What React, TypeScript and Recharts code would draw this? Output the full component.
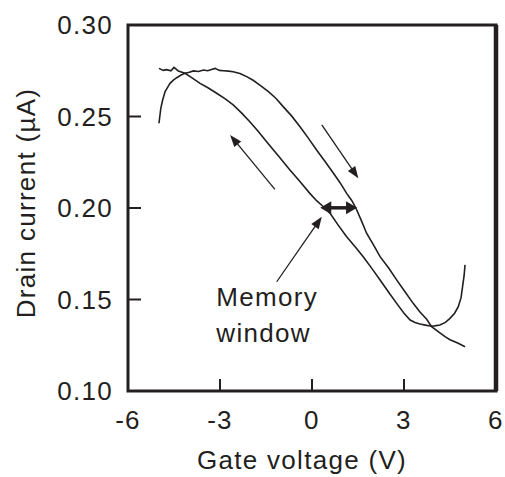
import React from 'react';
import { LineChart, Line, XAxis, YAxis, ReferenceLine, ReferenceArea, ReferenceDot } from 'recharts';

// Forward sweep (-5 V -> +5 V), right-hand branch
const forwardV = [-4.99, -4.93, -4.87, -4.79, -4.7, -4.63, -4.52, -4.41, -4.27, -4.14, -4.0, -3.87, -3.7, -3.54, -3.4, -3.25, -3.16, -3.02, -2.89, -2.72, -2.57, -2.35, -2.13, -1.92, -1.7, -1.42, -1.18, -0.94, -0.66, -0.39, -0.12, 0.15, 0.42, 0.7, 0.92, 1.13, 1.3, 1.43, 1.6, 1.78, 2.0, 2.22, 2.5, 2.76, 3.02, 3.3, 3.52, 3.74, 3.9, 4.17, 4.35, 4.5, 4.75, 4.99];
const forwardI = [0.2463, 0.2545, 0.2590, 0.2636, 0.2662, 0.2681, 0.2699, 0.2712, 0.2727, 0.2736, 0.2742, 0.2749, 0.2746, 0.2754, 0.2750, 0.2758, 0.2763, 0.2752, 0.2750, 0.2748, 0.2745, 0.2735, 0.2718, 0.2698, 0.2672, 0.2636, 0.2600, 0.2554, 0.2502, 0.2444, 0.2382, 0.2317, 0.2255, 0.2190, 0.2137, 0.2080, 0.2040, 0.2000, 0.1935, 0.1862, 0.1800, 0.1734, 0.1672, 0.1607, 0.1545, 0.1479, 0.1432, 0.1392, 0.1352, 0.1318, 0.1296, 0.1280, 0.1262, 0.1242];

// Reverse sweep (+5 V -> -5 V), left-hand branch
const reverseV = [-4.99, -4.85, -4.74, -4.6, -4.5, -4.36, -4.14, -3.9, -3.65, -3.38, -3.11, -2.84, -2.57, -2.3, -2.02, -1.75, -1.48, -1.1, -0.72, -0.4, -0.07, 0.15, 0.37, 0.59, 0.86, 1.13, 1.4, 1.67, 1.95, 2.22, 2.5, 2.76, 3.0, 3.2, 3.36, 3.52, 3.7, 3.85, 4.0, 4.17, 4.35, 4.5, 4.65, 4.77, 4.86, 4.91, 4.96, 4.99];
const reverseI = [0.2763, 0.2752, 0.2756, 0.2750, 0.2768, 0.2749, 0.2736, 0.2710, 0.2681, 0.2656, 0.2627, 0.2598, 0.2563, 0.2520, 0.2470, 0.2418, 0.2362, 0.2286, 0.2208, 0.2146, 0.2080, 0.2040, 0.2007, 0.1971, 0.1905, 0.1843, 0.1790, 0.1734, 0.1670, 0.1607, 0.1540, 0.1479, 0.1425, 0.1388, 0.1374, 0.1366, 0.1360, 0.1355, 0.1356, 0.1361, 0.1375, 0.1397, 0.1425, 0.1461, 0.1510, 0.1570, 0.1630, 0.1689];

const xTicks = [-6, -3, 0, 3, 6];
const yTicks = [0.1, 0.15, 0.2, 0.25, 0.3];
const xTitle = 'Gate voltage (V)';
const yTitle = 'Drain current (\u00b5A)';
const noteText = ['Memory', 'window'];

// annotation anchors in data units [V, µA]
const noteV = -3.12;
const noteI = [0.1464, 0.1268];
const sweepArrows = [
  { from: [-1.21, 0.2102], to: [-2.67, 0.2399] },
  { from: [0.32, 0.2454], to: [1.51, 0.2162] },
];
const windowArrow = { from: [0.27, 0.2001], to: [1.47, 0.2001] };
const pointerArrow = { from: [-1.15, 0.1597], to: [0.32, 0.1952] };

const INK = '#231f20';
const FONT = '"Liberation Sans", Arial, Helvetica, sans-serif';
const FS = 26;
const LS = 1.3;

const forwardData = forwardV.map((v, k) => ({ v, i: forwardI[k] }));
const reverseData = reverseV.map((v, k) => ({ v, i: reverseI[k] }));

function arrowShape(width: number, headLen: number, headHalf: number, both: boolean) {
  return (p: any) => {
    const x1 = Number(p.x1), y1 = Number(p.y1), x2 = Number(p.x2), y2 = Number(p.y2);
    const dx = x2 - x1, dy = y2 - y1;
    const len = Math.hypot(dx, dy) || 1;
    const ux = dx / len, uy = dy / len;
    const px = -uy, py = ux;
    const head = (tx: number, ty: number, dirx: number, diry: number) => {
      const bx = tx - dirx * headLen, by = ty - diry * headLen;
      return `${tx},${ty} ${bx + px * headHalf},${by + py * headHalf} ${bx - px * headHalf},${by - py * headHalf}`;
    };
    const sx = both ? x1 + ux * headLen * 0.8 : x1;
    const sy = both ? y1 + uy * headLen * 0.8 : y1;
    const ex = x2 - ux * headLen * 0.8, ey = y2 - uy * headLen * 0.8;
    return (
      <g>
        <line x1={sx} y1={sy} x2={ex} y2={ey} stroke={INK} strokeWidth={width} />
        <polygon points={head(x2, y2, ux, uy)} fill={INK} />
        {both && <polygon points={head(x1, y1, -ux, -uy)} fill={INK} />}
      </g>
    );
  };
}

const textShape = (txt: string) => (p: any) => (
  <text x={p.cx} y={p.cy} fill={INK} fontFamily={FONT} fontSize={FS} letterSpacing={LS} textAnchor="start">
    {txt}
  </text>
);

const tickStyle = { fill: INK, fontSize: FS, fontFamily: FONT, letterSpacing: LS };

export default function App() {
  return (
    <div style={{ position: 'absolute', left: 0, top: 0, width: 505, height: 477, background: '#fff' }}>
      <LineChart width={505} height={477} margin={{ top: 25, right: 9, bottom: 0, left: 0 }}>
        <XAxis
          type="number"
          dataKey="v"
          domain={[-6, 6]}
          ticks={xTicks}
          interval={0}
          allowDataOverflow
          height={86}
          axisLine={false}
          tickLine={{ stroke: INK, strokeWidth: 2 }}
          tickSize={-12}
          tickMargin={32}
          tick={tickStyle}
          label={{
            content: (props: any) => {
              const vb = props.viewBox || { x: 128, y: 391, width: 368, height: 86 };
              return (
                <text x={vb.x + vb.width / 2 - 10} y={vb.y + 78} textAnchor="middle" fill={INK} fontFamily={FONT} fontSize={FS} letterSpacing={LS}>
                  {xTitle}
                </text>
              );
            },
          }}
        />
        <YAxis
          type="number"
          dataKey="i"
          domain={[0.1, 0.3]}
          ticks={yTicks}
          interval={0}
          allowDataOverflow
          width={128}
          axisLine={false}
          tickLine={{ stroke: INK, strokeWidth: 2 }}
          tickSize={-13}
          tickMargin={28}
          tick={tickStyle}
          tickFormatter={(t: number) => t.toFixed(2)}
          label={{
            content: (props: any) => {
              const vb = props.viewBox || { x: 0, y: 25, width: 128, height: 366 };
              const cx = vb.x + 35;
              const cy = vb.y + vb.height / 2 - 5;
              return (
                <text x={cx} y={cy} transform={`rotate(-90, ${cx}, ${cy})`} textAnchor="middle" fill={INK} fontFamily={FONT} fontSize={FS} letterSpacing={LS}>
                  {yTitle}
                </text>
              );
            },
          }}
        />
        <ReferenceArea x1={-6} x2={6} y1={0.1} y2={0.3} fill="none" stroke={INK} strokeWidth={3} ifOverflow="visible" />
        <ReferenceLine x={6} stroke={INK} strokeWidth={4.5} ifOverflow="visible" />
        <Line data={forwardData} dataKey="i" type="linear" stroke={INK} strokeWidth={1.6} dot={false} isAnimationActive={false} />
        <Line data={reverseData} dataKey="i" type="linear" stroke={INK} strokeWidth={1.6} dot={false} isAnimationActive={false} />
        {sweepArrows.map((a, k) => (
          <ReferenceLine
            key={`sw${k}`}
            segment={[{ x: a.from[0], y: a.from[1] }, { x: a.to[0], y: a.to[1] }]}
            ifOverflow="visible"
            shape={arrowShape(1.3, 12, 4.5, false)}
          />
        ))}
        <ReferenceLine
          segment={[{ x: pointerArrow.from[0], y: pointerArrow.from[1] }, { x: pointerArrow.to[0], y: pointerArrow.to[1] }]}
          ifOverflow="visible"
          shape={arrowShape(1.3, 12, 4.5, false)}
        />
        <ReferenceLine
          segment={[{ x: windowArrow.from[0], y: windowArrow.from[1] }, { x: windowArrow.to[0], y: windowArrow.to[1] }]}
          ifOverflow="visible"
          shape={arrowShape(3.5, 11, 6.5, true)}
        />
        {noteText.map((t, k) => (
          <ReferenceDot key={`n${k}`} x={noteV} y={noteI[k]} r={0} ifOverflow="visible" shape={textShape(t)} />
        ))}
      </LineChart>
    </div>
  );
}
